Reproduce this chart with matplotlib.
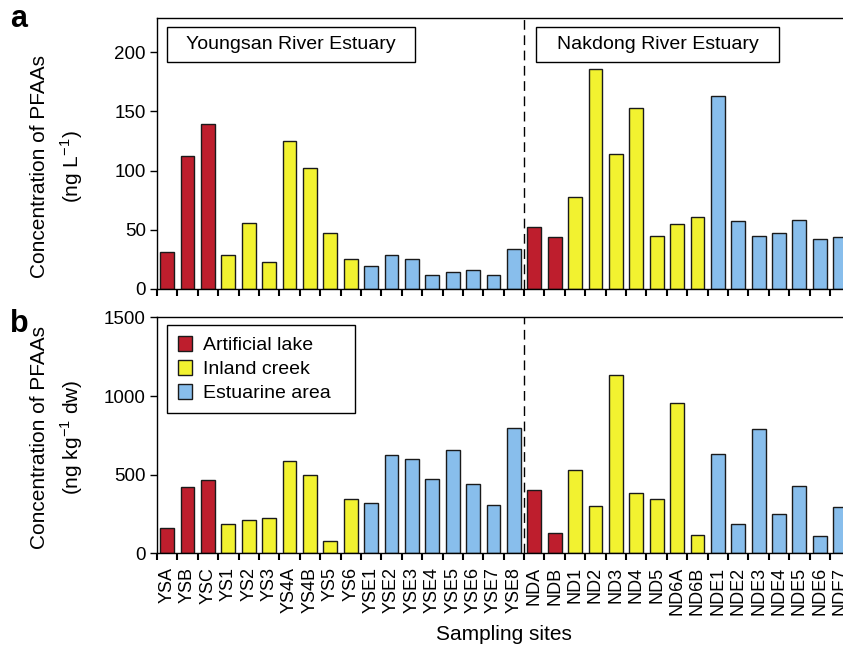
import matplotlib
matplotlib.use("Agg")
import matplotlib.pyplot as plt
from matplotlib.patches import Rectangle, Patch
import numpy as np

plt.rcParams["font.family"] = ["Liberation Sans", "DejaVu Sans"]

# Sampling sites (Youngsan first, then Nakdong)
sites = ["YSA", "YSB", "YSC", "YS1", "YS2", "YS3", "YS4A", "YS4B", "YS5", "YS6",
         "YSE1", "YSE2", "YSE3", "YSE4", "YSE5", "YSE6", "YSE7", "YSE8",
         "NDA", "NDB", "ND1", "ND2", "ND3", "ND4", "ND5", "ND6A", "ND6B",
         "NDE1", "NDE2", "NDE3", "NDE4", "NDE5", "NDE6", "NDE7"]

# site type: L = artificial lake, C = inland creek, E = estuarine area
site_type = ["L", "L", "L", "C", "C", "C", "C", "C", "C", "C",
             "E", "E", "E", "E", "E", "E", "E", "E",
             "L", "L", "C", "C", "C", "C", "C", "C", "C",
             "E", "E", "E", "E", "E", "E", "E"]

# PFAAs in water (ng/L)
water = [31, 112, 139, 29, 56, 23, 125, 102, 47, 25,
         19, 29, 25, 12, 14, 16, 12, 34,
         52, 44, 78, 186, 114, 153, 45, 55, 61,
         163, 57, 45, 47, 58, 42, 44]

# PFAAs in sediment (ng/kg dw)
sediment = [163, 420, 469, 187, 210, 223, 585, 498, 81, 344,
            322, 623, 598, 471, 655, 441, 305, 799,
            401, 127, 530, 299, 1134, 384, 346, 954, 117,
            634, 189, 793, 248, 426, 108, 297]

type_names = {"L": "Artificial lake", "C": "Inland creek", "E": "Estuarine area"}
type_colors = {"L": "#BE1E2D", "C": "#F2F230", "E": "#88BEEC"}

n_yeongsan = 18
x = np.arange(len(sites))
colors = [type_colors[t] for t in site_type]

fig = plt.figure(figsize=(8.43, 6.51), dpi=100)
ax_a = fig.add_axes([0.1862, 0.5561, 0.8226, 0.4167])
ax_b = fig.add_axes([0.1862, 0.1501, 0.8226, 0.3634])

for ax, vals, ylim, yticks in [(ax_a, water, 229, [0, 50, 100, 150, 200]),
                               (ax_b, sediment, 1505, [0, 500, 1000, 1500])]:
    ax.bar(x, vals, width=0.68, color=colors, edgecolor="#1a1a1a", linewidth=1.0, zorder=2)
    ax.set_xlim(-0.5, len(sites) - 0.5)
    ax.set_ylim(0, ylim)
    ax.set_yticks(yticks)
    ax.axvline(n_yeongsan - 0.5, color="black", linewidth=1.0, dashes=(7, 4), zorder=1)
    ax.set_xticks(np.arange(-0.5, len(sites), 1.0), minor=True)
    ax.tick_params(axis="x", which="minor", direction="out", length=5, width=1.5)
    ax.tick_params(axis="x", which="major", length=0)
    ax.tick_params(axis="y", direction="out", length=5, width=1.0, labelsize=13.5, pad=3)
    for s in ax.spines.values():
        s.set_linewidth(1.0)

ax_a.set_xticks(x)
ax_a.set_xticklabels([])
ax_b.set_xticks(x)
ax_b.set_xticklabels(sites, rotation=90, fontsize=13)
ax_b.tick_params(axis="x", which="major", pad=10)

ax_b.set_xlabel("Sampling sites", fontsize=15, labelpad=7)

ax_a.set_ylabel("Concentration of PFAAs\n(ng L$^{\\mathregular{-1}}$)", fontsize=15, linespacing=1.45)
ax_b.set_ylabel("Concentration of PFAAs\n(ng kg$^{\\mathregular{-1}}$ dw)", fontsize=15, linespacing=1.45)
ax_a.yaxis.set_label_coords(-0.104, 0.45)
ax_b.yaxis.set_label_coords(-0.104, 0.49)

# estuary name boxes
for x0, x1, label in [(0.0144, 0.372, "Youngsan River Estuary"),
                      (0.5466, 0.897, "Nakdong River Estuary")]:
    ax_a.add_patch(Rectangle((x0, 0.8367), x1 - x0, 0.129, transform=ax_a.transAxes,
                             facecolor="white", edgecolor="black", linewidth=1.0, zorder=3))
    ax_a.text((x0 + x1) / 2, 0.9012, label, transform=ax_a.transAxes, ha="center",
              va="center", fontsize=14, zorder=4)

handles = [Patch(facecolor=type_colors[k], edgecolor="#1a1a1a", label=type_names[k])
           for k in ["L", "C", "E"]]
leg_h = 0.364
ax_b.legend(handles=handles, loc="upper left", mode="expand",
            bbox_to_anchor=(0.0144, 0.965 - leg_h, 0.271, leg_h),
            borderaxespad=0, fontsize=14, fancybox=False, framealpha=1,
            edgecolor="black", handlelength=0.75, handleheight=0.8,
            handletextpad=0.55, labelspacing=0.3, borderpad=0.55)

fig.text(0.012, 0.958, "a", fontsize=22, fontweight="bold")
fig.text(0.012, 0.49, "b", fontsize=22, fontweight="bold")

fig.savefig("out.png", dpi=100)
